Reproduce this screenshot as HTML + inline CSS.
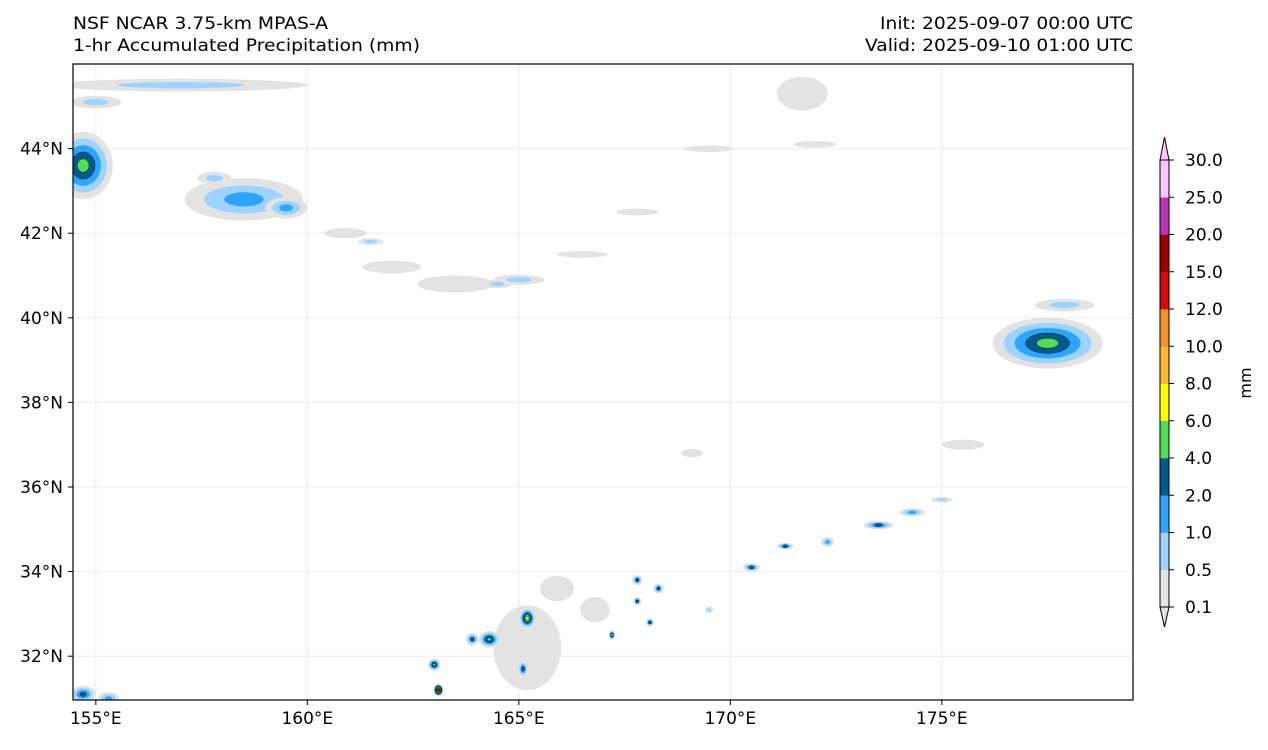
<!DOCTYPE html>
<html><head><meta charset="utf-8"><style>
body{margin:0;background:#fff;font-family:"Liberation Sans","DejaVu Sans",sans-serif;}
svg text{font-family:"DejaVu Sans","Liberation Sans",sans-serif;}
</style></head><body>
<svg id="chart" width="1268" height="745" xmlns="http://www.w3.org/2000/svg">
<text x="73" y="29" font-size="16.5" textLength="255" lengthAdjust="spacingAndGlyphs">NSF NCAR 3.75-km MPAS-A</text>
<text x="73" y="51" font-size="16.5" textLength="347" lengthAdjust="spacingAndGlyphs">1-hr Accumulated Precipitation (mm)</text>
<text x="1133" y="29" font-size="16.5" text-anchor="end" textLength="253" lengthAdjust="spacingAndGlyphs">Init: 2025-09-07 00:00 UTC</text>
<text x="1133" y="51" font-size="16.5" text-anchor="end" textLength="268" lengthAdjust="spacingAndGlyphs">Valid: 2025-09-10 01:00 UTC</text>
<defs><clipPath id="mc"><rect x="73" y="64" width="1060" height="636"/></clipPath></defs>
<g id="grid"></g>
<g id="blobs" clip-path="url(#mc)"></g>
<rect x="73" y="64" width="1060" height="636" fill="none" stroke="#000" stroke-width="1.2"/>
<g id="axes"></g>
<g id="cbar"></g>
<text transform="translate(1251,383) rotate(-90)" font-size="16" text-anchor="middle">mm</text>
</svg>
<script>
const lonTicks=[155,160,165,170,175];
const latTicks=[32,34,36,38,40,42,44];
const levels=["0.1","0.5","1.0","2.0","4.0","6.0","8.0","10.0","12.0","15.0","20.0","25.0","30.0"];
const colors=["#e3e3e3","#9fd3ff","#2fa4ff","#005a8a","#4fdd5a","#ffff00","#fdb631","#f19228","#d10c0c","#9c0000","#bb33bb","#ffc4ff"];
// blobs: lon, lat, rx(deg), ry(deg), max level index
const blobLon=[157,155,154.7,158.5,157.8,159.5,160.9,162,163.5,165,161.5,164.5,166.5,167.8,169.5,171.7,172,177.5,177.9,175.5,170.5,171.3,172.3,173.5,174.3,175,165.2,165.2,164.3,163.9,165.1,163,163.1,154.7,155.3,167.8,168.3,167.8,168.1,167.2,169.5,169.1,165.9,166.8];
const blobLat=[45.5,45.1,43.6,42.8,43.3,42.6,42,41.2,40.8,40.9,41.8,40.8,41.5,42.5,44,45.3,44.1,39.4,40.3,37,34.1,34.6,34.7,35.1,35.4,35.7,32.2,32.9,32.4,32.4,31.7,31.8,31.2,31.1,31,33.8,33.6,33.3,32.8,32.5,33.1,36.8,33.6,33.1];
const blobRx=[3,0.6,0.7,1.4,0.4,0.5,0.5,0.7,0.9,0.6,0.3,0.35,0.6,0.5,0.6,0.6,0.5,1.3,0.7,0.5,0.2,0.2,0.15,0.35,0.3,0.25,0.8,0.2,0.25,0.15,0.12,0.15,0.12,0.3,0.25,0.12,0.12,0.1,0.1,0.08,0.1,0.25,0.4,0.35];
const blobRy=[0.15,0.15,0.8,0.5,0.15,0.25,0.12,0.15,0.2,0.12,0.08,0.1,0.08,0.08,0.08,0.4,0.08,0.6,0.15,0.12,0.1,0.08,0.12,0.1,0.1,0.07,1.0,0.25,0.2,0.15,0.2,0.15,0.15,0.2,0.15,0.12,0.12,0.1,0.1,0.12,0.08,0.1,0.3,0.3];
const blobLev=[1,1,4,2,1,2,0,0,0,1,1,1,0,0,0,0,0,4,1,0,3,3,2,3,2,1,0,5,4,3,3,4,8,3,2,3,3,3,3,4,1,0,0,0];

const X=lon=>73+(lon-154.46)*42.3, Y=lat=>64+(46-lat)*42.3;
const NS="http://www.w3.org/2000/svg";
function mk(t,a,p){const e=document.createElementNS(NS,t);for(const k in a)e.setAttribute(k,a[k]);p.appendChild(e);return e;}
const grid=document.getElementById('grid'),axes=document.getElementById('axes'),bl=document.getElementById('blobs'),cb=document.getElementById('cbar');
lonTicks.forEach(l=>{
 const g=mk('line',{x1:X(l),x2:X(l),y1:64,y2:700,stroke:'#ebebeb','stroke-width':1},grid);
 
 
 const t=mk('line',{x1:X(l),x2:X(l),y1:700,y2:705,stroke:'#000'},axes);
 
 
 const tx=mk('text',{x:X(l),y:724,'font-size':17,'text-anchor':'middle'},axes);tx.textContent=l+'°E';
 
 
});
latTicks.forEach(l=>{
 const g=mk('line',{x1:73,x2:1133,y1:Y(l),y2:Y(l),stroke:'#ebebeb','stroke-width':1},grid);
 
 
 const t=mk('line',{x1:68,x2:73,y1:Y(l),y2:Y(l),stroke:'#000'},axes);
 
 
 const tx=mk('text',{x:63,y:Y(l)+6,'font-size':17,'text-anchor':'end'},axes);tx.textContent=l+'°N';
 
 
});
for(let i=0;i<blobLon.length;i++){
 const m=blobLev[i];
 for(let k=0;k<=m;k++){
  const f=(m-k+1)/(m+1);
  const e=mk('ellipse',{cx:X(blobLon[i]),cy:Y(blobLat[i]),rx:Math.max(1.5,blobRx[i]*42.3*f),ry:Math.max(1.5,blobRy[i]*42.3*f),fill:colors[k]},bl);
  if(k>=3){e.setAttribute('stroke','#000');e.setAttribute('stroke-width',0.4);}
  
  
 }
}
// colorbar
const cbx=1160,cbw=9,cbTop=160,cbBot=607,nc=colors.length;
const step=(cbBot-cbTop)/nc;
for(let i=0;i<nc;i++){
 const r=mk('rect',{x:cbx,y:cbBot-(i+1)*step,width:cbw,height:step+0.3,fill:colors[i]},cb);
 
 
}
const up=mk('polygon',{points:`${cbx},${cbTop} ${cbx+cbw/2},137 ${cbx+cbw},${cbTop}`,fill:colors[nc-1],stroke:'#000','stroke-width':1},cb);


const dn=mk('polygon',{points:`${cbx},${cbBot} ${cbx+cbw/2},627 ${cbx+cbw},${cbBot}`,fill:colors[0],stroke:'#000','stroke-width':1},cb);


const o=mk('path',{d:`M${cbx},${cbBot}V${cbTop}M${cbx+cbw},${cbBot}V${cbTop}`,stroke:'#000','stroke-width':1},cb);


levels.forEach((lv,i)=>{
 const y=cbBot-i*step;
 const t=mk('line',{x1:cbx+cbw,x2:cbx+cbw+5,y1:y,y2:y,stroke:'#000'},cb);
 
 
 const tx=mk('text',{x:1185,y:y+6,'font-size':17},cb);tx.textContent=lv;
 
 
});
</script>
</body></html>
